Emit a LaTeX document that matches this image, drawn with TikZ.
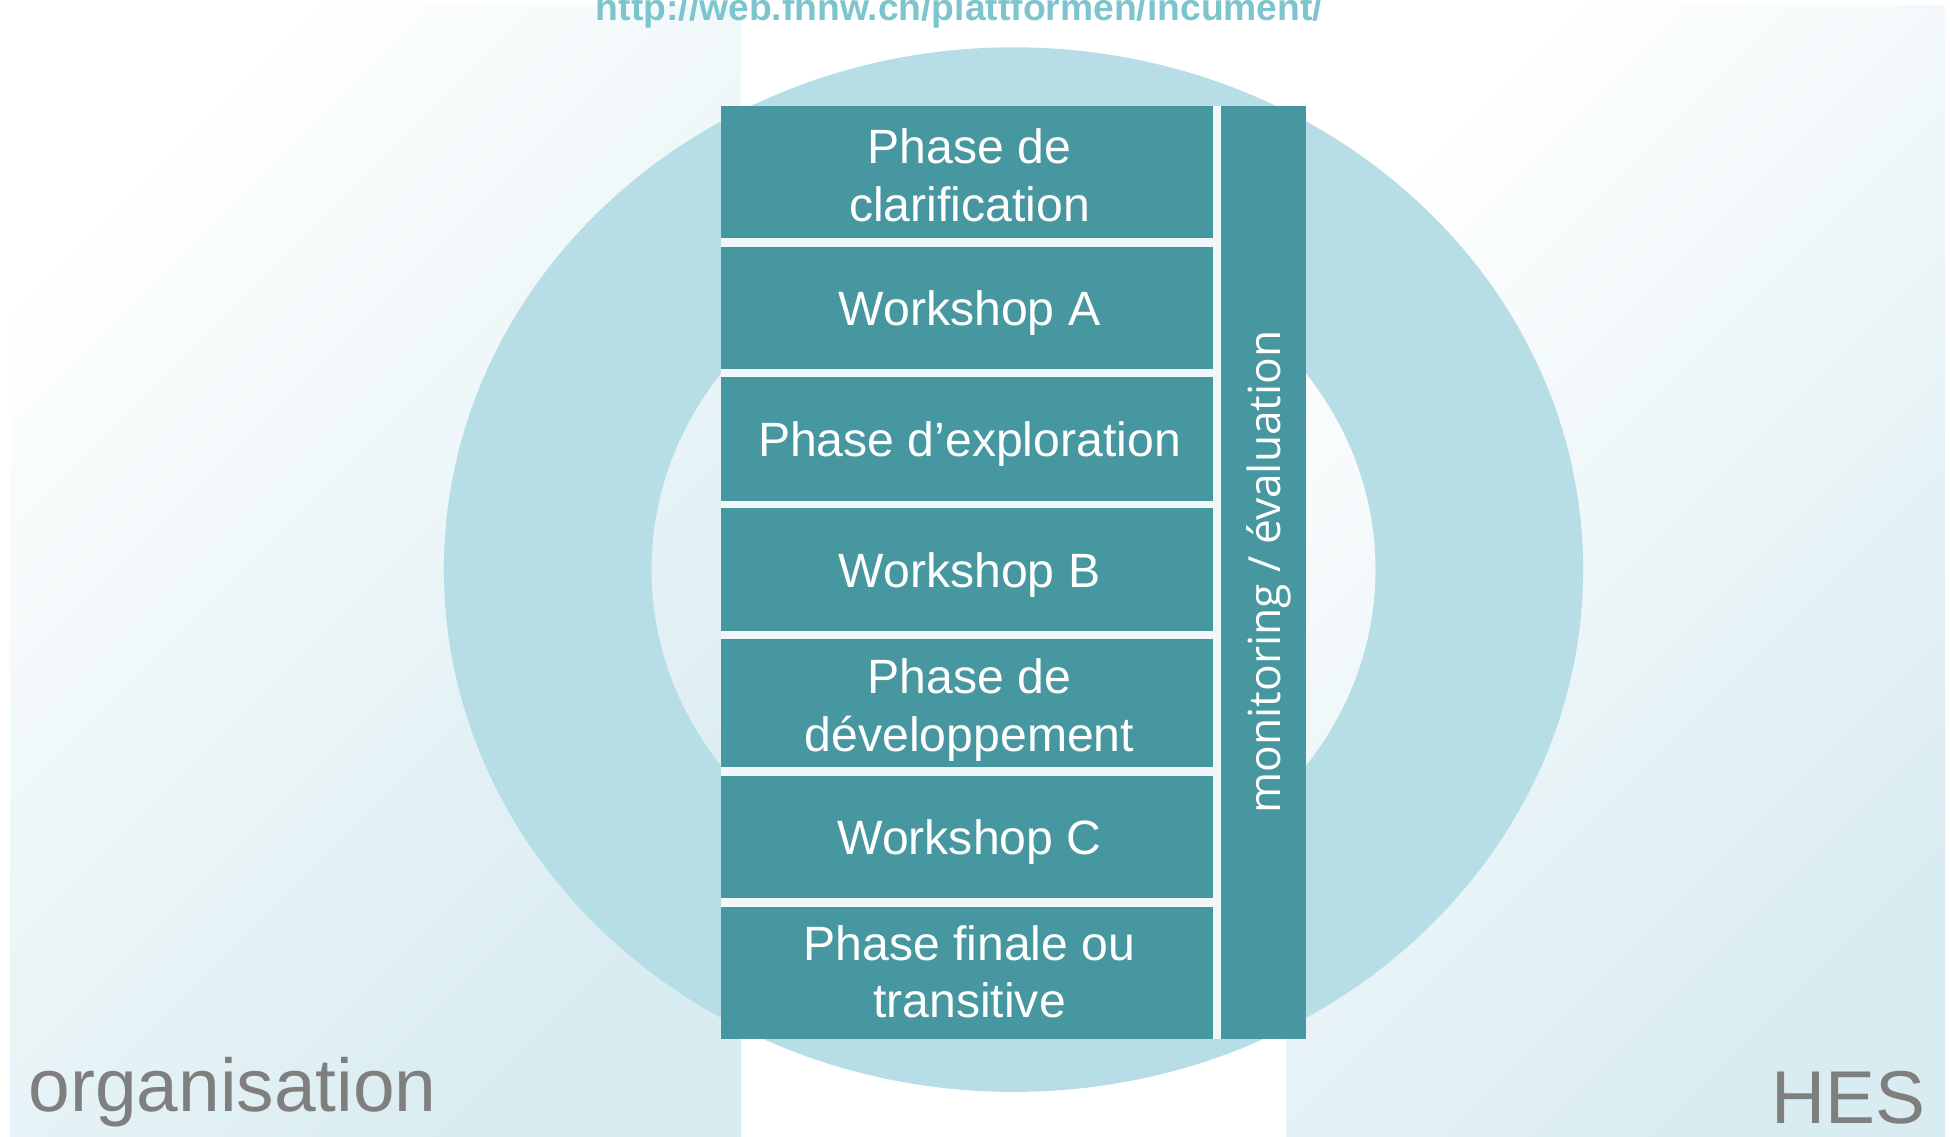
\documentclass[tikz,border=0pt]{standalone}
\usepackage{fontspec}
\setmainfont{Liberation Sans}
\newfontfamily\osans{Open Sans}
\definecolor{teal}{HTML}{46979F}
\definecolor{ringblue}{HTML}{B7DDE6}
\definecolor{gapcol}{HTML}{EFF7F9}
\definecolor{panelblue}{HTML}{D9ECF1}
\definecolor{urlcol}{HTML}{7CC5CC}
\definecolor{labgray}{HTML}{7F7F7F}
\begin{document}
\begin{tikzpicture}[x=0.1mm,y=-0.1mm,
  phasebox/.style={fill=teal},
  phasetext/.style={text=white,align=center,inner sep=0pt,text depth=0pt,
    font=\fontsize{13.7}{16.3}\selectfont},
  corner/.style={text=labgray,inner sep=0pt,font=\fontsize{21.3}{25}\selectfont}]
\useasboundingbox (0,0) rectangle (1950,1136);
% background panels
\shade[top color=white,bottom color=panelblue,shading angle=45] (10,5) rectangle (741,1136);
\shade[top color=white,bottom color=panelblue,shading angle=45] (1286,5) rectangle (1945,1136);
% ring
\fill[ringblue,even odd rule] (1013.5,569.6) ellipse [x radius=569.6,y radius=522.3]
  (1013.5,569.6) ellipse [x radius=362,y radius=333];
% url
\node[text=urlcol,anchor=base,inner sep=0pt,font=\fontsize{10.6}{12}\selectfont\bfseries] (url) at (959.5,20) {http://web.fhnw.ch/plattformen/incument/};
% block background
\fill[gapcol] (721,105.7) rectangle (1306,1038.7);
% rows
\fill[phasebox] (721,105.7) rectangle (1212.7,238.3);
\fill[phasebox] (721,246.7) rectangle (1212.7,369.3);
\fill[phasebox] (721,377.3) rectangle (1212.7,500.7);
\fill[phasebox] (721,508.3) rectangle (1212.7,631);
\fill[phasebox] (721,639.3) rectangle (1212.7,767.3);
\fill[phasebox] (721,775.7) rectangle (1212.7,898.3);
\fill[phasebox] (721,906.7) rectangle (1212.7,1038.7);
\fill[phasebox] (1221,105.7) rectangle (1306,1038.7);
% row texts
\node[phasetext] (p1) at (969.5,175) {Phase de\\clarification};
\node[phasetext] (w1) at (969.5,308) {Workshop A};
\node[phasetext] (p2) at (969.5,439) {Phase d’exploration};
\node[phasetext] (w2) at (969.5,569.6) {Workshop B};
\node[phasetext] (p3) at (969.5,705) {Phase de\\développement};
\node[phasetext] (w3) at (969.5,837) {Workshop C};
\node[phasetext] (p4) at (969.5,971.5) {Phase finale ou\\transitive};
\node[text=white,inner sep=0pt,rotate=90,anchor=base,font=\osans\fontsize{12.6}{15}\selectfont] (mon) at (1280,572) {monitoring / évaluation};
% corner labels
\node[corner,anchor=base west] (org) at (28,1111) {organisation};
\node[corner,anchor=base east] (hes) at (1926,1123) {HES};
\end{tikzpicture}
\end{document}
